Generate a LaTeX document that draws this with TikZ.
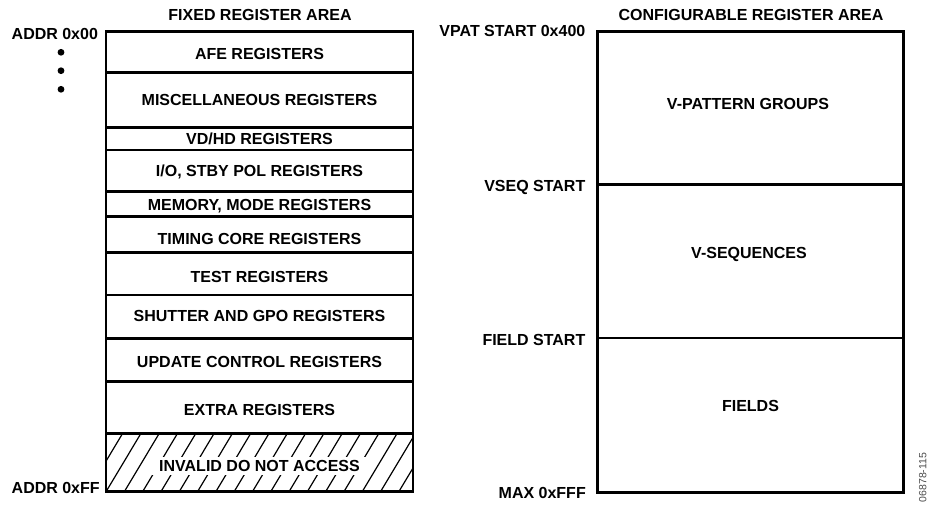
\documentclass[tikz,border=0pt]{standalone}
\usepackage{fontspec}
\setmainfont{Liberation Sans}
\begin{document}
\begin{tikzpicture}[x=1pt,y=-1pt,
  lbl/.style={font=\bfseries\fontsize{16}{19}\selectfont, inner sep=0pt, anchor=base},
  lblr/.style={lbl, anchor=base east},
  lbll/.style={lbl, anchor=base west},
  outerline/.style={line width=2.9pt},
  innerline/.style={line width=2.6pt},
  rinnerline/.style={line width=2.1pt},
  hatchline/.style={line width=1.2pt},
  dotmark/.style={fill=black}]
\useasboundingbox (0,0) rectangle (928,506);

% ---------- left: fixed register area ----------
\node[lbl] (fixtitle) at (260,20.7) {FIXED REGISTER AREA};
\node[lbll] (addr0) at (11.5,39.3) {ADDR 0x00};
\node[lbll] (addrff) at (11.5,493.3) {ADDR 0xFF};
\fill[dotmark] (61,52.3) circle (3.4pt);
\fill[dotmark] (61,70.7) circle (3.4pt);
\fill[dotmark] (61,89.3) circle (3.4pt);

% hatched invalid area
\begin{scope}
  \clip (106,433.3) rectangle (413,491.7);
  \foreach \k in {-3,...,18}
    \draw[hatchline] (106+\k*18.3,491.7) -- ++(35,-58.4);
\end{scope}

% dividers
\foreach \yy in {72.7,127.7,150,191.7,216.7,252.7,295,338.3,381.7,433.3}
  \draw[innerline] (106,\yy) -- (413,\yy);
\draw[outerline] (106,31.5) rectangle (413,491.7);

\node[lbl] (afe)   at (259.5,59.6)  {AFE REGISTERS};
\node[lbl] (misc)  at (259.5,105.9) {MISCELLANEOUS REGISTERS};
\node[lbl] (vdhd)  at (259.5,144.7) {VD/HD REGISTERS};
\node[lbl] (io)    at (259.5,176.5) {I/O, STBY POL REGISTERS};
\node[lbl] (mem)   at (259.5,210.5) {MEMORY, MODE REGISTERS};
\node[lbl] (tim)   at (259.5,244.8) {TIMING CORE REGISTERS};
\node[lbl] (test)  at (259.5,282.1) {TEST REGISTERS};
\node[lbl] (shut)  at (259.5,321.5) {SHUTTER AND GPO REGISTERS};
\node[lbl] (upd)   at (259.5,367.5) {UPDATE CONTROL REGISTERS};
\node[lbl] (extra) at (259.5,415.5) {EXTRA REGISTERS};
\node[lbl, fill=white, inner xsep=8pt, inner ysep=3pt] (inval) at (259.5,471.6) {INVALID DO NOT ACCESS};

% ---------- right: configurable register area ----------
\node[lbl] (cfgtitle) at (751,20.7) {CONFIGURABLE REGISTER AREA};
\draw[rinnerline] (597.5,184.5) -- (903.5,184.5);
\draw[rinnerline] (597.5,338.3) -- (903.5,338.3);
\draw[outerline] (597.5,31.5) rectangle (903.5,492.3);

\node[lblr] (vpat)  at (585.5,36.7)  {VPAT START 0x400};
\node[lblr] (vseq)  at (585.5,191.6) {VSEQ START};
\node[lblr] (fld)   at (585.5,345.6) {FIELD START};
\node[lblr] (maxf)  at (586,498.9) {MAX 0xFFF};

\node[lbl] (vpg)   at (748,109.9) {V-PATTERN GROUPS};
\node[lbl] (vsq)   at (749,258.3) {V-SEQUENCES};
\node[lbl] (flds)  at (750.5,411.7) {FIELDS};

\node[font=\fontsize{10.5}{12}\selectfont, text=black!70, rotate=90, inner sep=0pt] (fignum) at (922.8,477.5) {06878-115};
\end{tikzpicture}
\end{document}
